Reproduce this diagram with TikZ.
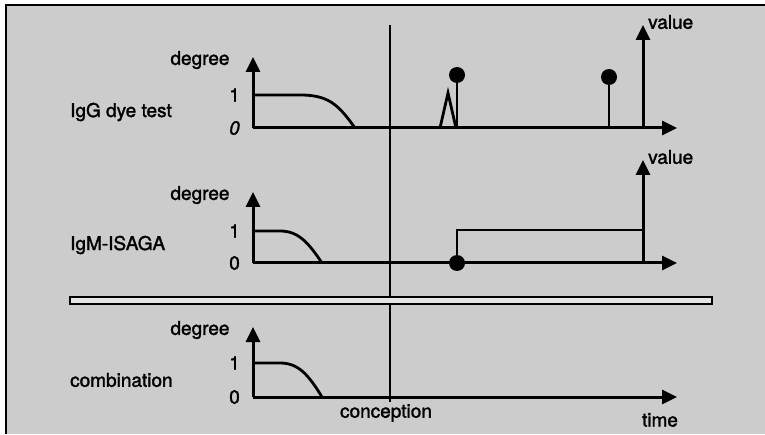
\documentclass[tikz,border=0pt]{standalone}
\usepackage{fontspec}
\setmainfont{TeX Gyre Heros}[BoldFont={*}, BoldFeatures={FakeBold=1.6}, BoldItalicFont={* Italic}, BoldItalicFeatures={FakeBold=1.6}]
\usetikzlibrary{arrows.meta}
\definecolor{bgpaper}{gray}{0.8}
\definecolor{sepfill}{gray}{0.9}
\begin{document}
\begin{tikzpicture}[x=1pt,y=1pt,
  lbl/.style={font=\fontsize{19}{21}\selectfont\bfseries, inner sep=0pt},
  axis/.style={line width=3pt, -{Triangle[length=15pt,width=14pt]}},
  curveline/.style={line width=2.8pt},
  thinline/.style={line width=2.3pt},
  lolly/.style={circle, fill=black, minimum size=16pt, inner sep=0pt}]
\useasboundingbox (0,0) rectangle (765,434);
\fill[bgpaper] (6,0) rectangle (765,429);
\draw[thinline] (6,0) -- (6,429) -- (765,429);

% conception line
\coordinate (cTop) at (390,409);
\coordinate (cBot) at (390,32);
\draw[thinline] (cTop) -- (cBot);
\node[lbl] (conc) at (386,21) {conception};
\node[lbl] (time) at (660,14) {time};

% separator
\draw[thinline, fill=sepfill] (70,130) rectangle (712,137);

% ---------- top panel ----------
\coordinate (o1) at (253,306);
\coordinate (y1) at (253,377);
\coordinate (x1) at (677,306);
\draw[axis] (o1) -- (y1);
\draw[axis] (o1) -- (x1);
\node[lbl] (deg1) at (200,374) {degree};
\node[lbl, anchor=east] (one1) at (240,339) {1};
\node[lbl, anchor=east] (zero1) at (240,306) {\itshape 0};
\node[lbl, anchor=west] (igg) at (70,322) {IgG dye test};
\draw[curveline] (253,339) -- (300,339) .. controls (328,339) and (338,330) .. (355,306);
\coordinate (v1b) at (643,306);
\coordinate (v1t) at (643,409);
\draw[axis] (v1b) -- (v1t);
\node[lbl, anchor=west] (val1) at (648,412) {value};
\coordinate (sp1) at (440,306);
\coordinate (sp2) at (448,341);
\coordinate (sp3) at (456,306);
\draw[curveline, line join=miter] (sp1) -- (sp2) -- (sp3);
\node[lolly] (l1) at (457,359) {};
\coordinate (l1b) at (457,306);
\draw[curveline] (l1b) -- (l1.center);
\node[lolly] (l2) at (609,357) {};
\coordinate (l2b) at (609,306);
\draw[curveline] (l2b) -- (l2.center);

% ---------- middle panel ----------
\coordinate (o2) at (253,171);
\coordinate (y2) at (253,242);
\coordinate (x2) at (677,171);
\draw[axis] (o2) -- (y2);
\draw[axis] (o2) -- (x2);
\node[lbl] (deg2) at (200,239) {degree};
\node[lbl, anchor=east] (one2) at (240,203) {1};
\node[lbl, anchor=east] (zero2) at (240,171) {0};
\node[lbl, anchor=west] (igm) at (70,189) {IgM-ISAGA};
\draw[curveline] (253,203) -- (280,203) .. controls (298,203) and (308,192) .. (322,171);
\coordinate (v2b) at (643,171);
\coordinate (v2t) at (643,274);
\draw[axis] (v2b) -- (v2t);
\node[lbl, anchor=west] (val2) at (648,277) {value};
\node[lolly] (d2) at (457,171) {};
\coordinate (st1) at (457,204);
\draw[curveline] (d2.center) -- (st1) -- (v2b |- st1);

% ---------- bottom panel ----------
\coordinate (o3) at (253,37);
\coordinate (y3) at (253,107);
\coordinate (x3) at (677,37);
\draw[axis] (o3) -- (y3);
\draw[axis] (o3) -- (x3);
\node[lbl] (deg3) at (200,104) {degree};
\node[lbl, anchor=east] (one3) at (240,71) {1};
\node[lbl, anchor=east] (zero3) at (240,37) {0};
\node[lbl, anchor=west] (comb) at (70,54) {combination};
\draw[curveline] (253,71) -- (280,71) .. controls (298,71) and (308,60) .. (322,37);
\end{tikzpicture}
\end{document}
